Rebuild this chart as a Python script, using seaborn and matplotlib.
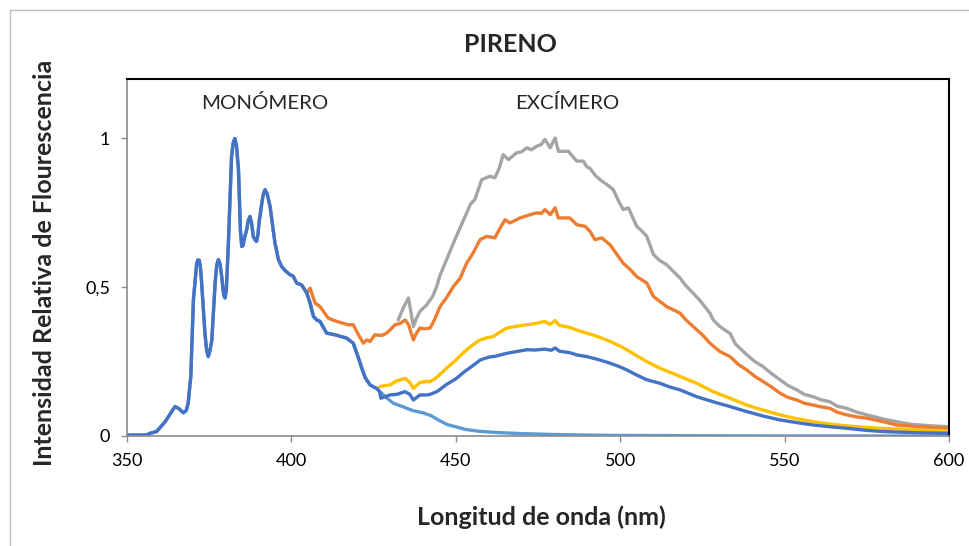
import matplotlib
matplotlib.use("Agg")
import matplotlib.pyplot as plt
import seaborn as sns
import pandas as pd
from matplotlib.lines import Line2D

# ---------------- data ----------------
# shared monomer region (all spectra coincide here)
mono_nm = [350, 354, 356, 357, 359, 361.6, 363, 364.6, 365.8, 367.1, 368.0, 368.6, 369.4,
           370.2, 371.2, 371.6, 372.0, 372.35, 372.7, 373.7, 374.2, 374.7, 375.2, 375.8,
           376.8, 377.3, 377.8, 378.3, 378.8, 379.4, 379.8, 380.2, 380.8, 381.8, 382.3,
           382.8, 383.3, 383.9, 384.5, 384.9, 385.3, 385.6, 386.4, 386.9, 387.4, 387.9,
           388.4, 389.0, 389.4, 389.8, 390.2, 391.0, 391.5, 392.0, 392.6, 393.5, 395.0,
           396.0, 397.0, 398.1, 399.6, 400.5, 401.6, 403.1, 404.7]
mono_val = [0.003, 0.003, 0.004, 0.009, 0.015, 0.048, 0.072, 0.099, 0.092, 0.078, 0.085,
            0.11, 0.2, 0.458, 0.581, 0.592, 0.59, 0.565, 0.514, 0.346, 0.29, 0.267, 0.285,
            0.323, 0.514, 0.575, 0.593, 0.578, 0.536, 0.475, 0.464, 0.49, 0.637, 0.94,
            0.985, 1.0, 0.975, 0.896, 0.69, 0.637, 0.64, 0.66, 0.694, 0.725, 0.738, 0.715,
            0.671, 0.658, 0.654, 0.675, 0.72, 0.783, 0.815, 0.828, 0.815, 0.772, 0.649,
            0.595, 0.57, 0.556, 0.542, 0.538, 0.514, 0.508, 0.48]

# continuation of monomer decay (shared by both blue curves)
decay_nm = [405.6, 406.7, 407.7, 408.7, 410.7, 413.3, 416.8, 418.8, 420.4, 421.5, 422.5,
            423.9, 425.0, 425.9, 426.8]
decay_val = [0.45, 0.402, 0.39, 0.385, 0.346, 0.34, 0.329, 0.312, 0.262, 0.225, 0.195,
             0.172, 0.165, 0.16, 0.15]

# pure monomer tail (light blue)
light_nm = [429, 431, 434, 437, 440, 442.5, 445, 447.5, 450, 453, 457, 462, 470, 480, 490,
            500, 520, 550, 600]
light_val = [0.128, 0.11, 0.098, 0.085, 0.078, 0.068, 0.052, 0.038, 0.031, 0.022, 0.016,
             0.012, 0.008, 0.005, 0.003, 0.002, 0.001, 0.0, 0.0]

# excimer tails
dark_nm = [427.2, 430, 432, 434.6, 436, 437.1, 439.1, 441.1, 442.2, 444.2, 445, 447, 450,
           452.5, 455, 457.5, 460, 462, 465.5, 468, 471.6, 474, 477.1, 479, 480.2, 481.5,
           484.7, 487, 489.8, 493, 496.9, 500, 502, 505, 508.1, 512.1, 515, 518.2, 523.3,
           528.3, 533.4, 538.5, 543.5, 548.6, 553.7, 558.7, 563.8, 568.9, 575, 580, 590, 600]
dark_val = [0.127, 0.138, 0.14, 0.149, 0.14, 0.121, 0.138, 0.138, 0.14, 0.149, 0.155, 0.172,
            0.192, 0.215, 0.235, 0.256, 0.265, 0.268, 0.278, 0.283, 0.29, 0.289, 0.292, 0.288,
            0.296, 0.285, 0.28, 0.272, 0.267, 0.258, 0.245, 0.232, 0.222, 0.205, 0.189, 0.177,
            0.165, 0.155, 0.132, 0.115, 0.099, 0.082, 0.067, 0.054, 0.045, 0.037, 0.031,
            0.026, 0.019, 0.015, 0.011, 0.009]

yellow_nm = [426.8, 430, 432, 434.6, 436, 437.1, 439.1, 441, 442.2, 444, 447.2, 450, 452.3,
             455, 457.4, 459.4, 461.4, 463.5, 465.5, 468, 471.6, 474, 477.1, 478.7, 480.2,
             481.5, 484.7, 487, 489.8, 493, 496.9, 500, 502, 505, 508.1, 512.1, 515, 518.2,
             523.3, 528.3, 533.4, 538.5, 543.5, 548.6, 553.7, 558.7, 563.8, 568.9, 575, 579,
             590, 600]
yellow_val = [0.166, 0.172, 0.185, 0.194, 0.18, 0.16, 0.18, 0.183, 0.183, 0.195, 0.228,
              0.255, 0.28, 0.305, 0.323, 0.33, 0.334, 0.35, 0.363, 0.368, 0.374, 0.378,
              0.385, 0.375, 0.388, 0.372, 0.365, 0.355, 0.346, 0.335, 0.318, 0.302, 0.29,
              0.27, 0.25, 0.228, 0.215, 0.2, 0.177, 0.149, 0.127, 0.104, 0.087, 0.071,
              0.058, 0.048, 0.04, 0.034, 0.029, 0.026, 0.021, 0.017]

orange_nm = [404.7, 405.7, 407.2, 408.7, 411.2, 413.8, 417.3, 418.8, 420.4, 421.9, 422.9,
             423.9, 425.4, 427.5, 429, 430.3, 431.5, 433, 434.6, 435.6, 437.1, 438,
             439.1, 440.5, 442.2, 443.5, 445.2, 447.2, 449.3, 451.3, 453.3, 455, 457.4,
             459.4, 461.9, 463.5, 465, 466.5, 469.5, 472.6, 474.6, 476, 477.1, 478.7, 480.2,
             481.2, 484.7, 486.8, 489.3, 490.8, 492.3, 494.4, 496.9, 500.9, 503, 505,
             508.1, 510.1, 514.1, 518.2, 520, 522.2, 525, 527.3, 530.3, 533.4, 536, 538.5,
             541, 543.5, 546, 548.6, 551, 553.7, 556, 558.7, 561, 563.8, 566, 568.9, 572,
             575, 580, 584.1, 588, 591.2, 595, 600]
orange_val = [0.48, 0.497, 0.447, 0.435, 0.396, 0.385, 0.374, 0.374, 0.34, 0.312, 0.323,
              0.318, 0.34, 0.338, 0.346, 0.36, 0.374, 0.378, 0.39, 0.375, 0.323,
              0.345, 0.363, 0.36, 0.363, 0.39, 0.435, 0.465, 0.503, 0.53, 0.581, 0.61,
              0.66, 0.671, 0.666, 0.70, 0.727, 0.716, 0.733, 0.744, 0.75, 0.748, 0.761,
              0.744, 0.767, 0.733, 0.733, 0.71, 0.705, 0.688, 0.66, 0.666, 0.643, 0.581,
              0.56, 0.536, 0.514, 0.469, 0.435, 0.413, 0.39, 0.368, 0.34, 0.312, 0.284,
              0.267, 0.24, 0.222, 0.2, 0.183, 0.165, 0.144, 0.13, 0.121, 0.11, 0.104,
              0.098, 0.093, 0.08, 0.071, 0.064, 0.06, 0.048, 0.037, 0.034, 0.031, 0.028,
              0.026]

gray_nm = [432.5, 434, 435.6, 436.3, 437.1, 438, 439.1, 441.1, 443, 444.2, 445.2, 447.2,
           449.3, 451.3, 453.3, 454.5, 455.8, 457.9, 460.4, 461.9, 463.2, 464.4, 466, 468.5,
           470, 471.6, 473, 474.6, 476, 477.1, 478.7, 480.2, 481.2, 484.2, 486.8, 488.8,
           489.8, 490.8, 492.5, 494.4, 496, 497.9, 499.5, 500.9, 502.5, 505, 506.5, 508.1,
           510.1, 512, 514.1, 516, 518.2, 520, 522.2, 524.3, 527.3, 528.3, 530.3, 532,
           533.4, 535, 538.5, 541, 543.5, 546, 548.6, 551, 553.7, 556, 558.7, 561, 563.8,
           566, 568.9, 572, 575, 580, 584.1, 588, 591.2, 595, 600]
gray_val = [0.39, 0.43, 0.464, 0.42, 0.368, 0.395, 0.419, 0.44, 0.47, 0.503, 0.54, 0.593,
            0.649, 0.70, 0.75, 0.78, 0.795, 0.862, 0.873, 0.868, 0.90, 0.946, 0.929, 0.952,
            0.955, 0.969, 0.962, 0.974, 0.98, 0.997, 0.969, 1.002, 0.957, 0.957, 0.924,
            0.924, 0.905, 0.90, 0.875, 0.857, 0.845, 0.828, 0.79, 0.761, 0.767, 0.705,
            0.69, 0.671, 0.61, 0.59, 0.576, 0.555, 0.531, 0.505, 0.48, 0.455, 0.413, 0.39,
            0.368, 0.355, 0.345, 0.31, 0.273, 0.25, 0.233, 0.21, 0.189, 0.17, 0.155, 0.14,
            0.132, 0.122, 0.115, 0.1, 0.093, 0.08, 0.071, 0.057, 0.048, 0.04, 0.037, 0.034,
            0.031]

x_ticks = [350, 400, 450, 500, 550, 600]
y_ticks = [0, 0.5, 1]
y_tick_labels = ["0", "0,5", "1"]

series = {
    "monómero": (mono_nm + decay_nm + light_nm, mono_val + decay_val + light_val),
    "s4": (gray_nm, gray_val),
    "s2": (orange_nm, orange_val),
    "s3": (yellow_nm, yellow_val),
    "s1": (mono_nm + decay_nm + dark_nm, mono_val + decay_val + dark_val),
}
colors = {"monómero": "#5B9BD5", "s4": "#A5A5A5", "s2": "#ED7D31",
          "s3": "#FFC000", "s1": "#4472C4"}

rows = []
for name, (xs, ys) in series.items():
    for xv, yv in zip(xs, ys):
        rows.append({"nm": xv, "I": yv, "serie": name})
df = pd.DataFrame(rows)

# ---------------- plot ----------------
sns.set_theme(style="white")
plt.rcParams["font.family"] = ["Lato", "DejaVu Sans"]

fig = plt.figure(figsize=(9.69, 5.46), dpi=100)
ax = fig.add_axes([127 / 969, 110 / 546, 822 / 969, 357 / 546])

sns.lineplot(data=df, x="nm", y="I", hue="serie", hue_order=list(series.keys()),
             palette=colors, estimator=None, sort=False, linewidth=2.4, ax=ax,
             legend=False)
for ln in ax.get_lines():
    ln.set_solid_joinstyle("round")
    ln.set_solid_capstyle("round")

ax.set_xlim(350, 600)
ax.set_ylim(0, 1.2)
ax.set_xticks(x_ticks)
ax.set_xticklabels([str(t) for t in x_ticks])
ax.set_yticks(y_ticks)
ax.set_yticklabels(y_tick_labels)
ax.tick_params(axis="both", which="major", direction="out", length=4, width=1,
               color="#8C8C8C", labelsize=13, labelcolor="black", pad=8)
ax.tick_params(axis="x", bottom=True)
ax.tick_params(axis="y", left=True)
ax.set_xlabel("")
ax.set_ylabel("")

for s in ("left", "bottom"):
    ax.spines[s].set_color("#8C8C8C")
    ax.spines[s].set_linewidth(1.2)
for s in ("top", "right"):
    ax.spines[s].set_color("black")
    ax.spines[s].set_linewidth(1.5)
ax.grid(False)

ax.text(392.0, 1.118, "MONÓMERO", ha="center", va="center", fontsize=14.7)
ax.text(483.8, 1.118, "EXCÍMERO", ha="center", va="center", fontsize=14.7)

fig.text(510 / 969, 1 - 44 / 546, "PIRENO", ha="center", va="center",
         fontsize=18, fontweight="bold")
fig.text(541 / 969, 1 - 517 / 546, "Longitud de onda (nm)", ha="center", va="center",
         fontsize=18, fontweight="bold")
fig.text(45 / 969, 1 - 263 / 546, "Intensidad Relativa de Flourescencia", ha="center",
         va="center", rotation=90, fontsize=18, fontweight="bold")

# outer chart border
fig.add_artist(Line2D([10 / 969, 10 / 969], [0, 1 - 10 / 546], transform=fig.transFigure,
                      color="#BFBFBF", linewidth=1))
fig.add_artist(Line2D([10 / 969, 1], [1 - 10 / 546, 1 - 10 / 546], transform=fig.transFigure,
                      color="#BFBFBF", linewidth=1))

fig.savefig("out.png", dpi=100)
